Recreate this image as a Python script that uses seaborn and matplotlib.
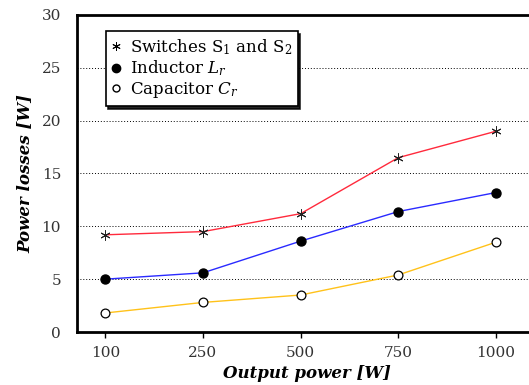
import matplotlib
matplotlib.use("Agg")
import matplotlib.pyplot as plt
import seaborn as sns
import pandas as pd
from matplotlib.lines import Line2D

categories = ["100", "250", "500", "750", "1000"]
switches = [9.2, 9.5, 11.2, 16.5, 19.0]
inductor = [5.0, 5.6, 8.6, 11.4, 13.2]
capacitor = [1.8, 2.8, 3.5, 5.4, 8.5]
yticks = [0, 5, 10, 15, 20, 25, 30]

sns.set_style("white")
plt.rcParams['font.family'] = ['DejaVu Serif']
plt.rcParams['mathtext.fontset'] = 'dejavuserif'
plt.rcParams['text.color'] = 'black'
plt.rcParams['axes.labelcolor'] = 'black'
plt.rcParams['xtick.color'] = 'black'
plt.rcParams['ytick.color'] = 'black'

fig = plt.figure(figsize=(5.29, 3.85), dpi=100)
ax = fig.add_axes([77/529, 53/385, 460/529, 317/385])

df = pd.DataFrame({"x": list(range(len(categories))) * 3,
                   "y": switches + inductor + capacitor,
                   "s": ["sw"] * 5 + ["ind"] * 5 + ["cap"] * 5})

colors = {"sw": "#ff2a3c", "ind": "#2a2aff", "cap": "#ffc21a"}
for key in ["sw", "ind", "cap"]:
    sub = df[df.s == key]
    sns.lineplot(data=sub, x="x", y="y", color=colors[key], lw=1.0, ax=ax, legend=False, zorder=2)

sub = df[df.s == "sw"]
ax.scatter(sub.x, sub.y, marker=(6, 2, 0), s=45, color="#222222", linewidths=0.7, zorder=3)
sub = df[df.s == "ind"]
ax.scatter(sub.x, sub.y, marker="o", s=42, color="black", zorder=3)
sub = df[df.s == "cap"]
ax.scatter(sub.x, sub.y, marker="o", s=40, facecolor="white", edgecolor="black", linewidths=0.9, zorder=3)

for yv in yticks[1:-1]:
    ax.axhline(yv, color="black", ls=(0, (1, 2)), lw=0.7, zorder=1)

ax.set_xlim(-0.29, 4.42)
ax.set_ylim(0, 30)
ax.set_yticks(yticks)
ax.set_xticks(range(len(categories)))
ax.set_xticklabels(categories)
ax.tick_params(axis="x", bottom=True, length=4, width=1, direction="out", labelsize=11, pad=6, labelcolor="#333333")
ax.tick_params(axis="y", left=False, labelsize=11, pad=8, labelcolor="#333333")
for sp in ["left", "bottom", "top"]:
    ax.spines[sp].set_color("black")
    ax.spines[sp].set_linewidth(2)
ax.spines["right"].set_visible(False)

ax.set_xlabel("Output power [W]", fontsize=12, fontweight="bold", fontstyle="italic", labelpad=4)
ax.set_ylabel("Power losses [W]", fontsize=12, fontweight="bold", fontstyle="italic", labelpad=6)

handles = [
    Line2D([], [], ls="none", marker=(6, 2, 0), color="black", markersize=6, markeredgewidth=0.7),
    Line2D([], [], ls="none", marker="o", color="black", markersize=6),
    Line2D([], [], ls="none", marker="o", markerfacecolor="white", markeredgecolor="black", markersize=5),
]
labels = ["Switches S$_1$ and S$_2$", "Inductor $L_r$", "Capacitor $C_r$"]
leg = ax.legend(handles, labels, loc="upper left", bbox_to_anchor=(0.062, 0.948),
                frameon=True, fancybox=False, shadow={"color": "black", "alpha": 0.85},
                edgecolor="black", fontsize=12, handlelength=0.6, handletextpad=0.5,
                borderpad=0.35, labelspacing=0.1, framealpha=1, borderaxespad=0)
leg.get_frame().set_linewidth(1.2)

fig.savefig("out.png", dpi=100)
